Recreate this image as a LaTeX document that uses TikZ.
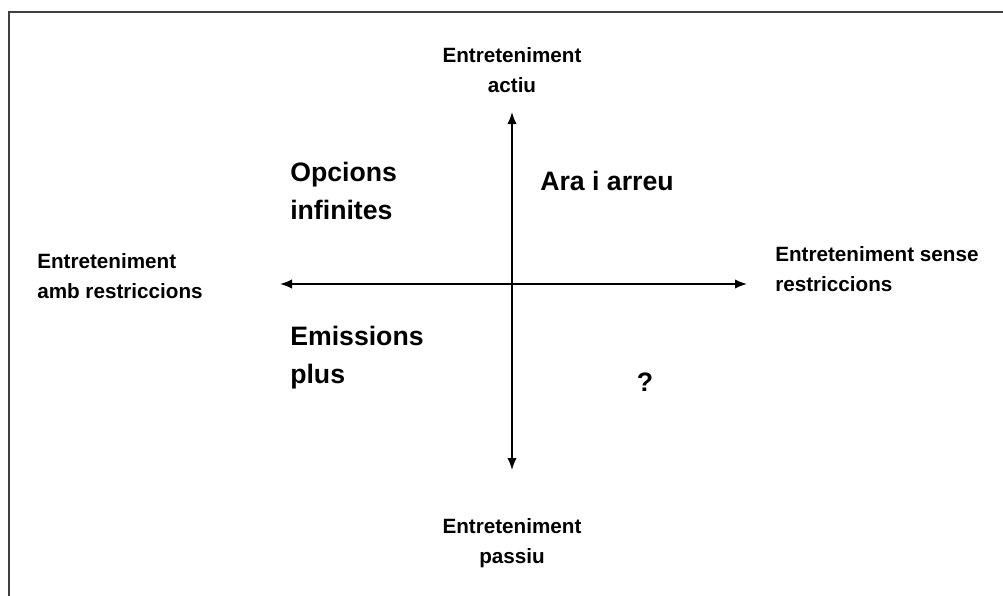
\documentclass[tikz,border=0pt]{standalone}
\usepackage{fontspec}
\setmainfont{Liberation Sans}
\usetikzlibrary{arrows.meta, positioning}

\begin{document}
\begin{tikzpicture}[x=0.75pt, y=-0.75pt,
    axis/.style={{Latex[length=9pt,width=7pt]}-{Latex[length=9pt,width=7pt]}, line width=1.2pt},
    small/.style={font=\fontsize{15.5}{22}\selectfont\bfseries, inner sep=0pt},
    big/.style={font=\fontsize{20}{28.5}\selectfont\bfseries, inner sep=0pt, align=left, anchor=west}]
    \useasboundingbox (0,0) rectangle (1003,596);
    \draw [line width=1.5pt, black!75] (9,596) -- (9,12) -- (1003,12);

    % axes
    \coordinate (top) at (512,112);
    \coordinate (bot) at (512,470);
    \coordinate (lft) at (280,284);
    \coordinate (rgt) at (747,284);
    \draw [axis] (bot) -- (top);
    \draw [axis] (lft) -- (rgt);

    \node (actiu) [small, align=center] at (512,70) {Entreteniment\\actiu};
    \node (passiu) [small, align=center] at (512,543) {Entreteniment\\passiu};
    \node (amb) [small, align=left, anchor=west] at (37,276) {Entreteniment\\amb restriccions};
    \node (sense) [small, align=left, anchor=west] at (775,269) {Entreteniment sense\\restriccions};

    \node (opcions) [big] at (290,191) {Opcions\\infinites};
    \node (ara) [big] at (540,181) {Ara i arreu};
    \node (emissions) [big] at (290,358) {Emissions\\plus};
    \node (interr) [big, anchor=center] at (645,382) {?};
\end{tikzpicture}
\end{document}
